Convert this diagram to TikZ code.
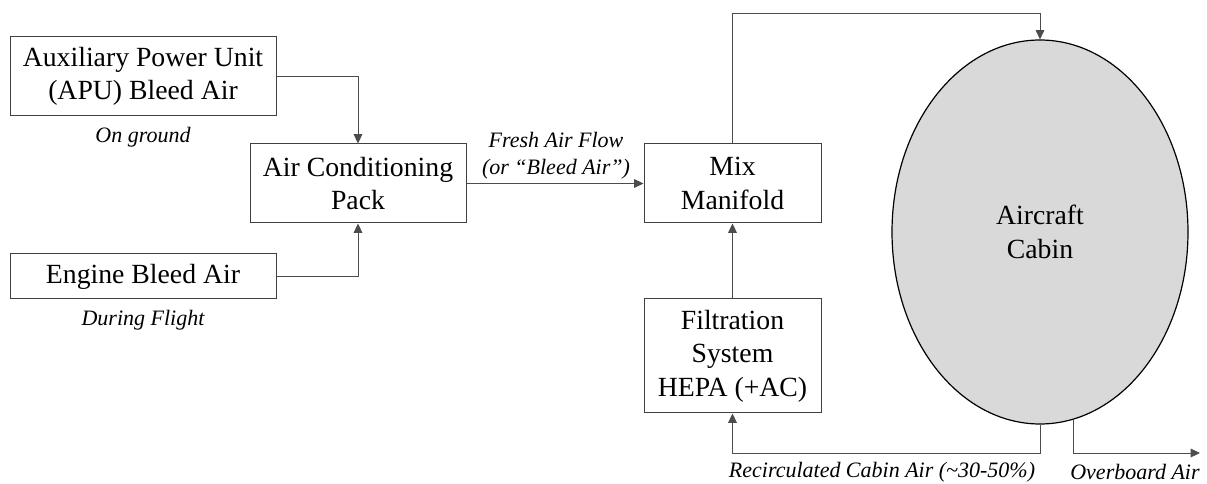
\documentclass[tikz,border=0pt]{standalone}
\usepackage{fontspec}
\setmainfont{Liberation Serif}
\usetikzlibrary{shapes.geometric,arrows.meta}

\begin{document}
\begin{tikzpicture}[x=0.75pt,y=-0.75pt,
    box/.style={draw=black!75,line width=0.75pt,align=center,inner sep=0pt,
        font=\fontsize{20.8}{25}\selectfont},
    note/.style={align=center,inner sep=1pt,font=\fontsize{16.5}{20}\selectfont\itshape},
    flow/.style={draw=black!70,line width=0.65pt,
        -{Triangle[length=7pt,width=6.5pt]}}]
    \useasboundingbox (0,0) rectangle (1207,484);
    % Bleed air sources
    \node[box,minimum width=199.5pt,minimum height=59.25pt] (apu) at (143,76.5)
        {Auxiliary Power Unit\\(APU) Bleed Air};
    \node[note] (ground) at (143,137) {On ground};
    \node[box,minimum width=199.5pt,minimum height=33.75pt] (engine) at (143,276.5)
        {Engine Bleed Air};
    \node[note] (flight) at (143,320) {During Flight};
    % Pack, manifold, filter
    \node[box,minimum width=162pt,minimum height=59.25pt] (pack) at (358,183.5)
        {Air Conditioning\\Pack};
    \node[box,minimum width=132.75pt,minimum height=59.25pt] (mix) at (732.5,183.5)
        {Mix\\Manifold};
    \node[box,minimum width=132.75pt,minimum height=85.5pt] (filter) at (732.5,356)
        {Filtration\\System\\HEPA (+AC)};
    \node[note] (fresh) at (556,156) {Fresh Air Flow\\(or “Bleed Air”)};
    % Cabin
    \node[ellipse,draw=black,line width=0.9pt,fill=black!15,inner sep=0pt,
        minimum width=222pt,minimum height=288pt,align=center,
        font=\fontsize{20.8}{25}\selectfont] (cabin) at (1040,232)
        {Aircraft\\Cabin};
    \node[note] (recirclbl) at (882,472) {Recirculated Cabin Air (\textasciitilde30-50\%)};
    \node[note] (overlbl) at (1135,472) {Overboard Air};
    % Flows
    \coordinate (top) at (1040,13);
    \coordinate (recirc) at (1040,453);
    \coordinate (obend) at (1200,453);
    \draw[flow] (apu.east) -| (pack.north);
    \draw[flow] (engine.east) -| (pack.south);
    \draw[flow] (pack.east) -- (mix.west);
    \draw[flow] (filter.north) -- (mix.south);
    \draw[flow] (mix.north) |- (top) -- (cabin.north);
    \draw[flow] (cabin.south) -- (recirc) -| (filter.south);
    \draw[flow] (cabin.-80.6) |- (obend);
\end{tikzpicture}
\end{document}
